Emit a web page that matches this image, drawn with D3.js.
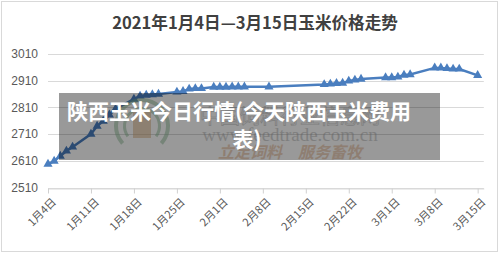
<!DOCTYPE html>
<html>
<head>
<meta charset="utf-8">
<script src="https://cdn.jsdelivr.net/npm/d3@7"></script>
<style>
  body { margin: 0; background: #fff; }
  svg { display: block; font-family: "Noto Sans CJK SC", "Noto Sans", sans-serif; }
</style>
</head>
<body>
<div id="chart"></div>
<script>
// data
const dates = ['2021-01-04','2021-01-05','2021-01-06','2021-01-07','2021-01-08',
  '2021-01-11','2021-01-12','2021-01-13','2021-01-14','2021-01-15',
  '2021-01-18','2021-01-19','2021-01-20','2021-01-21','2021-01-22',
  '2021-01-25','2021-01-26','2021-01-27','2021-01-28','2021-01-29',
  '2021-01-31','2021-02-01','2021-02-02','2021-02-03','2021-02-04','2021-02-05',
  '2021-02-09','2021-02-18','2021-02-19','2021-02-20','2021-02-21',
  '2021-02-22','2021-02-23','2021-02-24','2021-02-28','2021-03-01','2021-03-02',
  '2021-03-03','2021-03-04','2021-03-08','2021-03-09','2021-03-10','2021-03-11',
  '2021-03-12','2021-03-15'];
const prices = [2598,2609,2628,2647,2662,
  2710,2740,2759,2782,2804,
  2841,2853,2856,2858,2860,
  2868,2870,2879,2881,2881,
  2886,2886,2886,2887,2887,2887,
  2887,2896,2898,2900,2901,
  2909,2913,2916,2922,2922,2924,
  2931,2933,2958,2958,2956,2954,
  2954,2930];
const yTicks = [2510,2610,2710,2810,2910,3010];
const xTickDates = ['2021-01-04','2021-01-11','2021-01-18','2021-01-25','2021-02-01','2021-02-08',
  '2021-02-15','2021-02-22','2021-03-01','2021-03-08','2021-03-15'];
const xTickLabels = ['1月4日','1月11日','1月18日','1月25日','2月1日','2月8日',
  '2月15日','2月22日','3月1日','3月8日','3月15日'];

const title = '2021年1月4日—3月15日玉米价格走势';
const overlayLines = ['陕西玉米今日行情(今天陕西玉米费用', '表)'];

const width = 500, height = 253;
const parse = d3.timeParse('%Y-%m-%d');
const data = dates.map((d, i) => ({ date: parse(d), value: prices[i] }));

const svg = d3.select('#chart').append('svg')
  .attr('width', width)
  .attr('height', height);

svg.append('rect')
  .attr('x', 1.5).attr('y', 1.5)
  .attr('width', 496).attr('height', 250)
  .attr('fill', '#fff')
  .attr('stroke', '#d9d9d9');

const x = d3.scaleTime()
  .domain([parse('2021-01-04'), parse('2021-03-16')])
  .range([48, 483.8]);

const y = d3.scaleLinear()
  .domain([2510, 3010])
  .range([187.5, 54]);

svg.append('text')
  .text(title)
  .attr('x', 255)
  .attr('y', 28.5)
  .attr('text-anchor', 'middle')
  .attr('font-size', '16.6px')
  .attr('font-weight', 'bold')
  .attr('fill', '#404040');

// gridlines
svg.append('g')
  .selectAll('line')
  .data(yTicks)
  .enter()
  .append('line')
  .attr('x1', 48).attr('x2', 483.8)
  .attr('y1', d => Math.round(y(d)) + 0.5)
  .attr('y2', d => Math.round(y(d)) + 0.5)
  .attr('stroke', '#d9d9d9')
  .attr('stroke-width', 1);

// y labels
svg.append('g')
  .selectAll('text')
  .data(yTicks)
  .enter()
  .append('text')
  .text(d => d)
  .attr('x', 38)
  .attr('y', d => y(d))
  .attr('dy', '0.35em')
  .attr('text-anchor', 'end')
  .attr('font-family', '"Liberation Sans", sans-serif')
  .attr('font-size', '12px')
  .attr('fill', '#595959');

// x axis
const xAxis = d3.axisBottom(x)
  .tickValues(xTickDates.map(parse))
  .tickFormat('')
  .tickSize(5)
  .tickSizeOuter(0);

const gx = svg.append('g')
  .attr('transform', 'translate(0,' + (Math.round(y(2510)) + 0.5) + ')')
  .call(xAxis);
gx.select('.domain').attr('stroke', '#d9d9d9');
gx.selectAll('.tick line').attr('stroke', '#d0d0d0');

svg.append('g')
  .selectAll('text')
  .data(xTickDates)
  .enter()
  .append('text')
  .text((d, i) => xTickLabels[i])
  .attr('transform', d => 'translate(' + (x(parse(d)) + 6) + ',200) rotate(-45)')
  .attr('text-anchor', 'end')
  .attr('dy', '0.35em')
  .attr('font-size', '11px')
  .attr('fill', '#595959');

// series
const line = d3.line()
  .x(d => x(d.date))
  .y(d => y(d.value));

svg.append('path')
  .datum(data)
  .attr('d', line)
  .attr('fill', 'none')
  .attr('stroke', '#4a7ebf')
  .attr('stroke-width', 2.5);

const tri = d3.symbol().type(d3.symbolTriangle).size(36);
svg.append('g')
  .selectAll('path')
  .data(data)
  .enter()
  .append('path')
  .attr('d', tri)
  .attr('transform', d => 'translate(' + x(d.date) + ',' + y(d.value) + ')')
  .attr('fill', '#4a7ebf');

// faint watermark of the source site
const wm = svg.append('g').attr('opacity', 0.45);
wm.append('path')
  .attr('d', d3.arc()({ innerRadius: 24, outerRadius: 28, startAngle: -2.3, endAngle: 2.3 }))
  .attr('transform', 'translate(142,126)')
  .attr('fill', '#7fb48a');
wm.append('path')
  .attr('d', d3.arc()({ innerRadius: 16, outerRadius: 19, startAngle: -2.2, endAngle: 2.2 }))
  .attr('transform', 'translate(142,126)')
  .attr('fill', '#7fb48a');
wm.append('rect')
  .attr('x', 133).attr('y', 112).attr('width', 18).attr('height', 26)
  .attr('fill', '#d7a66c');
wm.append('text')
  .text('中国饲料行业信息网')
  .attr('x', 290).attr('y', 124)
  .attr('text-anchor', 'middle')
  .attr('font-size', '20px')
  .attr('fill', 'none')
  .attr('stroke', '#9a9a9a')
  .attr('stroke-width', 0.7);
wm.append('text')
  .text('www.feedtrade.com.cn')
  .attr('x', 290).attr('y', 141)
  .attr('text-anchor', 'middle')
  .attr('font-family', '"Liberation Serif", serif')
  .attr('font-size', '19px')
  .attr('fill', '#a0a0a0');
wm.append('text')
  .text('立足饲料　服务畜牧')
  .attr('x', 290).attr('y', 158)
  .attr('text-anchor', 'middle')
  .attr('font-size', '16px')
  .attr('font-weight', 'bold')
  .attr('font-style', 'italic')
  .attr('fill', '#d9a070');

// grey caption box over the chart
svg.append('rect')
  .attr('x', 59).attr('y', 93)
  .attr('width', 381).attr('height', 67)
  .attr('fill', '#000')
  .attr('opacity', 0.4);

svg.append('text')
  .text(overlayLines[0])
  .attr('x', 67).attr('y', 118.5)
  .attr('font-size', '21px')
  .attr('font-weight', 'bold')
  .attr('fill', '#fff');

svg.append('text')
  .text(overlayLines[1])
  .attr('x', 247).attr('y', 147)
  .attr('text-anchor', 'middle')
  .attr('font-size', '21px')
  .attr('font-weight', 'bold')
  .attr('fill', '#fff');
</script>
</body>
</html>
